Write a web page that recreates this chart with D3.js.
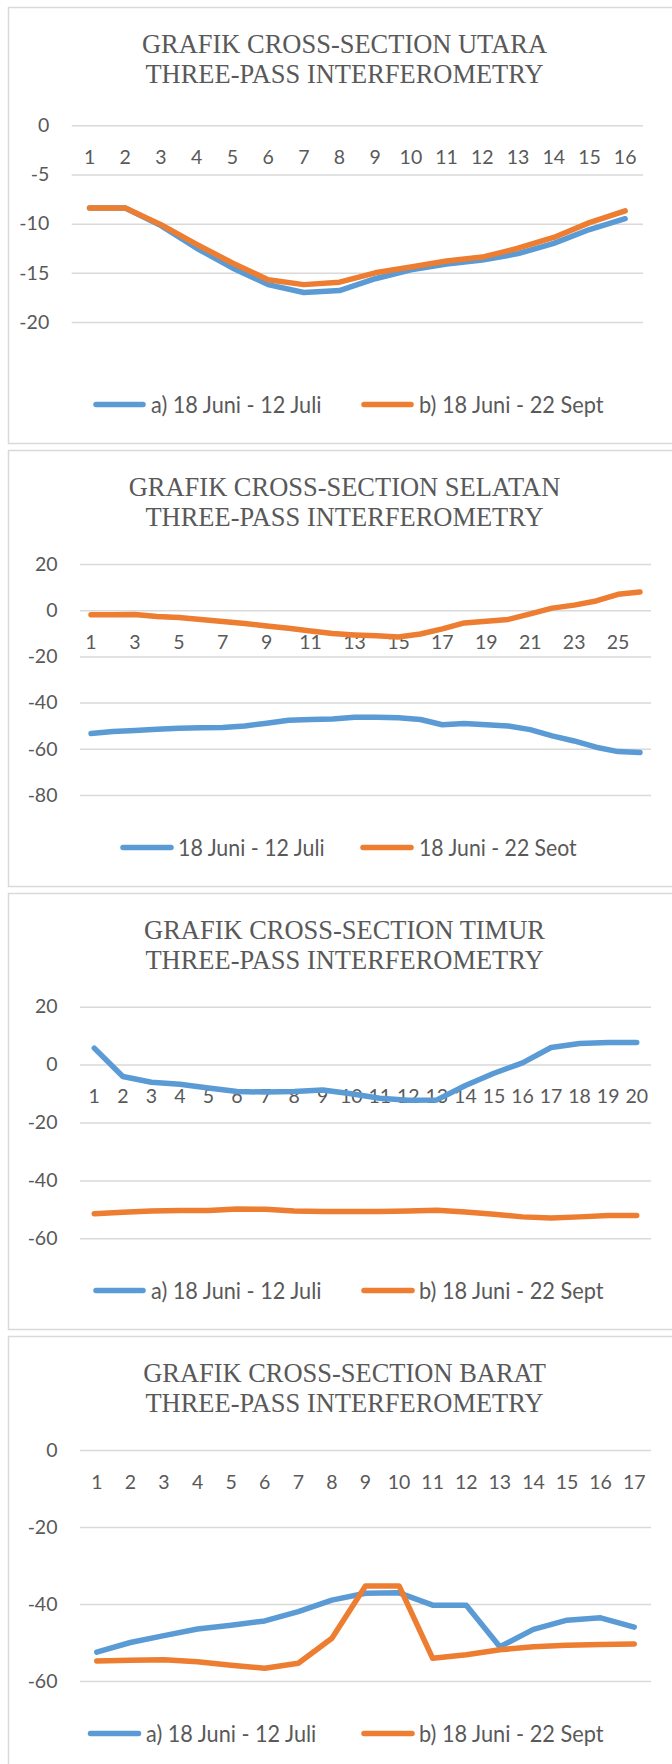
<!DOCTYPE html>
<html>
<head>
<meta charset="utf-8">
<script src="https://cdn.jsdelivr.net/npm/d3@7"></script>
<style>
  body { margin: 0; background: #fff; }
  svg { display: block; }
</style>
</head>
<body>
<div class="svg-container"></div>
<script>
// values
const utaraCats = [1, 2, 3, 4, 5, 6, 7, 8, 9, 10, 11, 12, 13, 14, 15, 16];
const utaraTicks = [0, -5, -10, -15, -20];
const utaraA = [-8.4, -8.4, -10.2, -12.5, -14.5, -16.2, -17.0, -16.8, -15.6, -14.7, -14.1, -13.7, -13.05, -12.0, -10.6, -9.5];
const utaraB = [-8.4, -8.4, -10.1, -12.1, -14.0, -15.7, -16.2, -15.95, -15.0, -14.4, -13.8, -13.4, -12.5, -11.4, -9.9, -8.7];

const selatanCats = [1, 2, 3, 4, 5, 6, 7, 8, 9, 10, 11, 12, 13, 14, 15, 16, 17, 18, 19, 20, 21, 22, 23, 24, 25, 26];
const selatanLabels = [1, 3, 5, 7, 9, 11, 13, 15, 17, 19, 21, 23, 25];
const selatanTicks = [20, 0, -20, -40, -60, -80];
const selatanA = [-53.4, -52.5, -52.1, -51.5, -51.1, -50.9, -50.8, -50.1, -48.9, -47.6, -47.3, -47.1, -46.3, -46.3, -46.6, -47.3, -49.6, -49.1, -49.6, -50.1, -51.7, -54.4, -56.6, -59.3, -61.2, -61.6];
const selatanB = [-2.0, -2.0, -1.9, -2.7, -3.2, -4.0, -4.9, -5.8, -6.8, -7.8, -9.0, -10.1, -10.7, -11.1, -11.6, -10.3, -8.1, -5.5, -4.8, -4.0, -1.6, 0.9, 2.2, 4.0, 6.9, 7.9];

const timurCats = [1, 2, 3, 4, 5, 6, 7, 8, 9, 10, 11, 12, 13, 14, 15, 16, 17, 18, 19, 20];
const timurTicks = [20, 0, -20, -40, -60];
const timurA = [5.7, -4.1, -6.1, -6.8, -8.1, -9.3, -9.5, -9.3, -8.8, -10.1, -11.6, -12.3, -12.2, -7.2, -3.0, 0.6, 5.9, 7.3, 7.6, 7.6];
const timurB = [-51.5, -51.0, -50.6, -50.4, -50.4, -49.9, -50.0, -50.6, -50.7, -50.7, -50.7, -50.6, -50.3, -50.9, -51.7, -52.6, -53.0, -52.6, -52.1, -52.1];

const baratCats = [1, 2, 3, 4, 5, 6, 7, 8, 9, 10, 11, 12, 13, 14, 15, 16, 17];
const baratTicks = [0, -20, -40, -60];
const baratA = [-52.5, -50.0, -48.2, -46.5, -45.5, -44.4, -42.0, -39.0, -37.2, -37.1, -40.3, -40.3, -51.1, -46.6, -44.2, -43.6, -46.0];
const baratB = [-54.8, -54.6, -54.5, -55.0, -55.9, -56.7, -55.4, -48.9, -35.3, -35.3, -54.1, -53.2, -51.9, -51.1, -50.7, -50.5, -50.4];

const namesAB = ['a) 18 Juni - 12 Juli', 'b) 18 Juni - 22 Sept'];
const namesSelatan = ['18 Juni - 12 Juli', '18 Juni - 22 Seot'];
const subTitle = 'THREE-PASS INTERFEROMETRY';

let xsChart = {
  mainSelect: '.svg-container',
  width: 672,
  height: 1764,
  colors: ['#5b9bd5', '#ed7d31'],
  textColor: '#595959',
  gridColor: '#d9d9d9',
  squeeze: 0.945,
  panels: [
    { title: 'GRAFIK CROSS-SECTION UTARA', cats: utaraCats, labels: utaraCats, ticks: utaraTicks,
      series: [utaraA, utaraB], names: namesAB,
      top: 7, left: 71.7, right: 643, yTop: 118.3, yBot: 315,
      legend: [{x1: 96, x2: 143, tx: 151, w: 170.5}, {x1: 364, x2: 411, tx: 419, w: 184.5}] },
    { title: 'GRAFIK CROSS-SECTION SELATAN', cats: selatanCats, labels: selatanLabels, ticks: selatanTicks,
      series: [selatanA, selatanB], names: namesSelatan,
      top: 450, left: 80, right: 651, yTop: 114, yBot: 345,
      legend: [{x1: 123, x2: 171, tx: 178, w: 146.6}, {x1: 363, x2: 411, tx: 419, w: 157.7}] },
    { title: 'GRAFIK CROSS-SECTION TIMUR', cats: timurCats, labels: timurCats, ticks: timurTicks,
      series: [timurA, timurB], names: namesAB,
      top: 893, left: 80, right: 651, yTop: 113.7, yBot: 345.3,
      legend: [{x1: 96, x2: 143, tx: 151, w: 170.5}, {x1: 364, x2: 412, tx: 419, w: 184.5}] },
    { title: 'GRAFIK CROSS-SECTION BARAT', cats: baratCats, labels: baratCats, ticks: baratTicks,
      series: [baratA, baratB], names: namesAB,
      top: 1336, left: 80, right: 651, yTop: 114, yBot: 345,
      legend: [{x1: 90.5, x2: 138.5, tx: 146, w: 170.3}, {x1: 364, x2: 412, tx: 419, w: 184.5}] }
  ],
  makeBoard() {
    d3.select(xsChart.mainSelect).selectAll('svg').remove();
    xsChart.svg = d3.select(xsChart.mainSelect).append('svg')
      .attr('width', xsChart.width)
      .attr('height', xsChart.height);
    xsChart.panels.forEach(xsChart.drawPanel);
  },
  drawPanel(p) {
    const g = xsChart.svg.append('g');

    g.append('rect')
      .attr('x', 8.5).attr('y', p.top + 0.5)
      .attr('width', 700).attr('height', 436)
      .attr('fill', '#fff')
      .attr('stroke', xsChart.gridColor).attr('stroke-width', 1.5);

    // title, two lines of serif text
    [p.title, subTitle].forEach(function(t, i) {
      g.append('g')
        .attr('transform', 'translate(344.5,' + (p.top + 45.5 + i * 30) + ') scale(' + xsChart.squeeze + ',1)')
        .append('text')
        .attr('text-anchor', 'middle')
        .style('font-family', '"Liberation Serif", "Times New Roman", serif')
        .style('font-size', '28px')
        .style('fill', xsChart.textColor)
        .text(t);
    });

    const x = d3.scaleBand().domain(p.cats).range([p.left, p.right]);
    const y = d3.scaleLinear()
      .domain([d3.max(p.ticks), d3.min(p.ticks)])
      .range([p.top + p.yTop, p.top + p.yBot]);
    const cx = function(c) { return x(c) + x.bandwidth() / 2; };

    const yAxis = g.append('g')
      .attr('transform', 'translate(' + p.left + ',0)')
      .call(d3.axisLeft(y).tickValues(p.ticks)
        .tickFormat(function(d) { return String(d); })   // plain hyphen, as in the original
        .tickSize(-(p.right - p.left)).tickPadding(22.5));
    yAxis.select('.domain').remove();
    yAxis.selectAll('line').attr('stroke', xsChart.gridColor).attr('stroke-width', 1.5);
    yAxis.selectAll('text')
      .style('font-family', 'Lato, "Open Sans", sans-serif')
      .style('font-size', '19.5px')
      .style('fill', xsChart.textColor);

    const xAxis = g.append('g')
      .attr('transform', 'translate(0,' + y(0) + ')')
      .call(d3.axisBottom(x).tickValues(p.labels).tickSize(0));
    xAxis.select('.domain').remove();
    xAxis.selectAll('text')
      .attr('y', 32).attr('dy', '0.35em')
      .style('font-family', 'Lato, "Open Sans", sans-serif')
      .style('font-size', '19.5px')
      .style('fill', xsChart.textColor);

    const line = d3.line()
      .x(function(d, i) { return cx(p.cats[i]); })
      .y(function(d) { return y(d); });

    p.series.forEach(function(s, i) {
      g.append('path')
        .datum(s)
        .attr('d', line)
        .attr('fill', 'none')
        .attr('stroke', xsChart.colors[i])
        .attr('stroke-width', 5.5)
        .attr('stroke-linecap', 'round')
        .attr('stroke-linejoin', 'round');
    });

    // legend
    const ly = p.top + 397.5;
    p.legend.forEach(function(l, i) {
      g.append('line')
        .attr('x1', l.x1).attr('x2', l.x2)
        .attr('y1', ly).attr('y2', ly)
        .attr('stroke', xsChart.colors[i])
        .attr('stroke-width', 5.5)
        .attr('stroke-linecap', 'round');
      g.append('text')
        .attr('x', l.tx).attr('y', ly).attr('dy', '0.35em')
        .attr('textLength', l.w).attr('lengthAdjust', 'spacingAndGlyphs')
        .style('font-family', 'Lato, "Open Sans", sans-serif')
        .style('font-size', '23px')
        .style('fill', xsChart.textColor)
        .text(p.names[i]);
    });
  }
};

document.addEventListener('DOMContentLoaded', function(event) {
  xsChart.makeBoard();
});
</script>
</body>
</html>
